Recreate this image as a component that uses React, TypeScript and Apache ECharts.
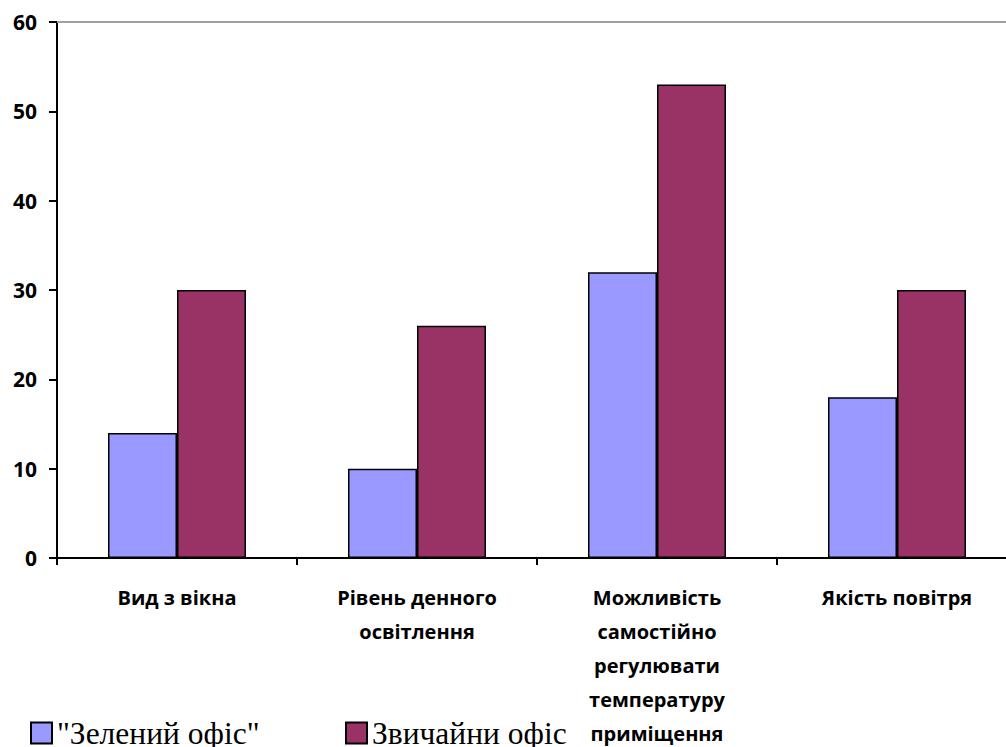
import React, { useEffect, useRef } from "react";
import * as echarts from "echarts";

const categories = [
  "Вид з вікна",
  "Рівень денного\nосвітлення",
  "Можливість\nсамостійно\nрегулювати\nтемпературу\nприміщення",
  "Якість повітря",
];
const seriesNames = ['"Зелений офіс"', "Звичайни офіс"];
const greenOffice = [14, 10, 32, 18];
const regularOffice = [30, 26, 53, 30];
const yTicks = { min: 0, max: 60, interval: 10 };

export default function App() {
  const ref = useRef<HTMLDivElement>(null);
  useEffect(() => {
    if (!ref.current) return;
    document.body.style.margin = "0";
    document.documentElement.style.overflow = "hidden";
    document.body.style.overflow = "hidden";
    const chart = echarts.init(ref.current, undefined, { renderer: "svg" });
    const labelFont = "'Open Sans', 'Noto Sans', sans-serif";
    const legendText = {
      fontFamily: "'Liberation Serif', 'DejaVu Serif', serif",
      fontSize: 31.5,
      color: "#000",
      lineHeight: 24,
    };
    const legendBase = {
      top: 717,
      icon: "rect",
      itemWidth: 21,
      itemHeight: 21,
      itemGap: 0,
      padding: 0,
      textStyle: legendText,
    };
    chart.setOption({
      animation: false,
      backgroundColor: "#fff",
      grid: {
        left: 57,
        top: 22,
        width: 960,
        height: 536,
        containLabel: false,
        outerBoundsMode: "none",
      },
      legend: [
        { ...legendBase, data: [seriesNames[0]], left: 30 },
        { ...legendBase, data: [seriesNames[1]], left: 345 },
      ],
      xAxis: [
        {
          type: "category",
          data: categories,
          axisLine: { lineStyle: { color: "#000", width: 2 } },
          axisTick: { show: true, length: 7, lineStyle: { color: "#000", width: 2 } },
          axisLabel: {
            interval: 0,
            margin: 23,
            fontFamily: labelFont,
            fontWeight: "bold",
            fontSize: 20,
            lineHeight: 33.8,
            color: "#000",
          },
        },
        {
          type: "category",
          position: "top",
          data: categories,
          axisLine: { show: true, lineStyle: { color: "#a0a0a0", width: 2 } },
          axisTick: { show: false },
          axisLabel: { show: false },
        },
      ],
      yAxis: {
        type: "value",
        min: yTicks.min,
        max: yTicks.max,
        interval: yTicks.interval,
        axisLine: { show: true, lineStyle: { color: "#000", width: 2 } },
        axisTick: { show: true, length: 8, lineStyle: { color: "#000", width: 2 } },
        splitLine: { show: false },
        axisLabel: {
          margin: 20,
          fontFamily: labelFont,
          fontWeight: "bold",
          fontSize: 21,
          color: "#000",
        },
      },
      series: [
        {
          name: seriesNames[0],
          type: "bar",
          data: greenOffice,
          barGap: "0%",
          barCategoryGap: "42.5%",
          itemStyle: { color: "#9999ff", borderColor: "#000", borderWidth: 1.5 },
        },
        {
          name: seriesNames[1],
          type: "bar",
          data: regularOffice,
          barGap: "0%",
          barCategoryGap: "42.5%",
          itemStyle: { color: "#993366", borderColor: "#000", borderWidth: 1.5 },
        },
      ],
    });
    return () => chart.dispose();
  }, []);
  return (
    <div
      style={{
        position: "absolute",
        left: 0,
        top: 0,
        width: 1006,
        height: 747,
        overflow: "hidden",
      }}
    >
      <div ref={ref} style={{ width: 1006, height: 747 }} />
    </div>
  );
}
